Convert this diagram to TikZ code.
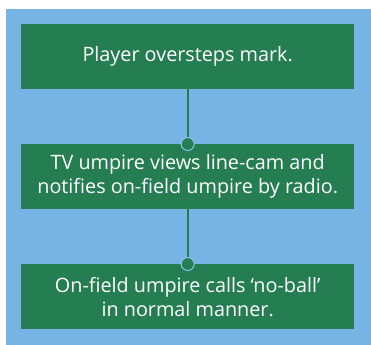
\documentclass[tikz,border=0pt]{standalone}
\usepackage{fontspec}
\setmainfont{Open Sans}
\definecolor{bgblue}{HTML}{77B4E3}
\definecolor{boxgreen}{HTML}{257D52}
\definecolor{ringblue}{HTML}{8EC3EC}
\begin{document}
\begin{tikzpicture}[x=1bp,y=-1bp,
  stepbox/.style={fill=boxgreen, draw=none, minimum width=333bp, minimum height=65bp, anchor=north west, inner sep=0pt, text=white, align=center, font=\fontsize{19.8bp}{24bp}\selectfont},
  link/.style={draw=boxgreen, line width=2bp},
  dot/.style={circle, fill=boxgreen, draw=ringblue, line width=1bp, minimum size=13bp, inner sep=0pt}]
\useasboundingbox (0,0) rectangle (371,345);
\fill[white] (0,0) rectangle (371,345);
\fill[bgblue] (6,9) rectangle (371,345);
\node[stepbox] (a) at (21,24) {Player oversteps mark.};
\node[stepbox] (b) at (21,144) {TV umpire views line-cam and\\notifies on-field umpire by radio.};
\node[stepbox] (c) at (21,264) {On-field umpire calls ‘no-ball’\\in normal manner.};
\draw[link] (a.south) -- (b.north);
\draw[link] (b.south) -- (c.north);
\node[dot] (d1) at (b.north) {};
\node[dot] (d2) at (c.north) {};
\end{tikzpicture}
\end{document}
